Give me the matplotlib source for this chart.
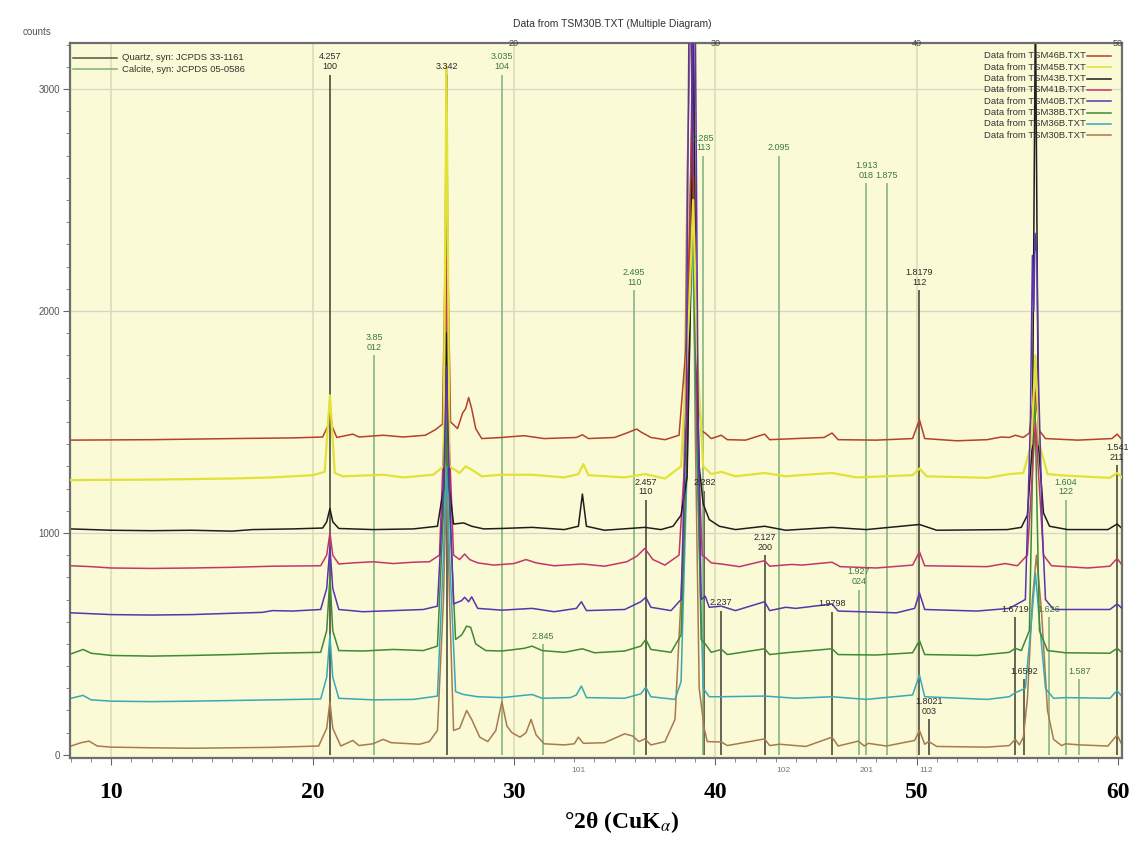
import matplotlib.pyplot as plt
from matplotlib.ticker import MultipleLocator
import matplotlib.transforms as mtransforms

plt.rcParams['font.family'] = ['Liberation Sans', 'DejaVu Sans']
plt.rcParams['mathtext.fontset'] = 'stix'

W, H = 1138, 843

# diffractogram traces, (2theta, counts), top to bottom
t1 = [(8.0, 1418), (12, 1420), (16, 1425), (19, 1428), (20.5, 1432), (20.75, 1480), (20.86, 1565), (20.97, 1480),
      (21.2, 1430), (22.0, 1445), (22.3, 1432), (23.5, 1440), (24.5, 1432), (25.6, 1440), (26.1, 1465), (26.45, 1490),
      (26.58, 2200), (26.65, 3100), (26.72, 2200), (26.85, 1500), (27.2, 1470), (27.45, 1540), (27.6, 1560),
      (27.75, 1610), (27.9, 1560), (28.1, 1470), (28.4, 1425), (29.4, 1430), (30.5, 1438), (31.5, 1425), (33.1, 1430),
      (33.4, 1442), (33.7, 1425), (35.0, 1430), (35.6, 1450), (36.1, 1468), (36.3, 1455), (36.8, 1430), (37.5, 1420),
      (38.2, 1440), (38.6, 1900), (38.85, 2900), (39.1, 1700), (39.3, 1460), (39.5, 1450), (39.8, 1425), (40.3, 1440),
      (40.6, 1420), (41.5, 1418), (42.45, 1445), (42.7, 1420), (44.0, 1425), (45.4, 1430), (45.8, 1450), (46.1, 1420),
      (48.0, 1418), (49.8, 1425), (50.14, 1510), (50.4, 1425), (52.0, 1415), (53.5, 1420), (54.2, 1432), (54.6, 1430),
      (54.9, 1440), (55.3, 1430), (55.6, 1450), (55.85, 1650), (56.1, 1460), (56.4, 1425), (58.0, 1418), (59.7, 1425),
      (59.96, 1445), (60.2, 1420)]
t2 = [(8, 1238), (12, 1240), (16, 1245), (18, 1250), (20, 1260), (20.6, 1275), (20.86, 1620), (21.1, 1270), (21.5, 1255),
      (23.5, 1262), (24.5, 1250), (26.0, 1262), (26.5, 1300), (26.65, 3100), (26.8, 1300), (27.3, 1270), (27.6, 1300),
      (27.9, 1285), (28.4, 1255), (29.4, 1262), (30.9, 1262), (32.5, 1250), (33.2, 1265), (33.45, 1310), (33.7, 1260),
      (35.5, 1250), (36.5, 1265), (37.5, 1245), (38.3, 1300), (38.7, 2000), (38.9, 2500), (39.1, 1800), (39.4, 1300),
      (39.8, 1265), (40.3, 1275), (41, 1255), (42.45, 1270), (43.5, 1255), (44.5, 1262), (45.8, 1270), (47, 1250),
      (49.8, 1260), (50.14, 1290), (50.5, 1255), (53.5, 1248), (54.6, 1265), (55.3, 1270), (55.7, 1400), (55.9, 1800),
      (56.1, 1400), (56.5, 1265), (57.4, 1258), (59.6, 1248), (59.96, 1270), (60.2, 1250)]
t3 = [(8, 1018), (10, 1012), (12, 1010), (14, 1012), (16, 1008), (17, 1015), (19, 1018), (20.5, 1022), (20.7, 1050),
      (20.86, 1110), (21.0, 1050), (21.3, 1020), (23, 1015), (25, 1018), (26.2, 1030), (26.5, 1200), (26.65, 1900),
      (26.8, 1200), (27.0, 1040), (27.5, 1045), (27.9, 1030), (28.5, 1018), (29.4, 1020), (30.9, 1025), (32.5, 1015),
      (33.2, 1030), (33.4, 1175), (33.6, 1030), (34.5, 1012), (36.5, 1025), (37.3, 1015), (37.9, 1030), (38.3, 1080),
      (38.6, 1250), (38.8, 2200), (38.9, 3400), (39.0, 2200), (39.2, 1300), (39.4, 1130), (39.7, 1060), (40.2, 1030),
      (41, 1015), (42.45, 1030), (43.5, 1012), (45.8, 1025), (47.5, 1015), (50.14, 1038), (51, 1012), (54.5, 1015),
      (55.2, 1025), (55.5, 1080), (55.75, 1400), (55.9, 3400), (56.05, 1400), (56.3, 1090), (56.6, 1030), (57.5, 1015),
      (59.5, 1015), (59.96, 1040), (60.2, 1020)]
t4 = [(8, 852), (9, 848), (10, 842), (12, 840), (14, 842), (16, 845), (18, 850), (20.4, 852), (20.7, 900), (20.86, 1000),
      (21.0, 900), (21.3, 860), (22, 865), (23, 870), (24, 862), (25, 868), (25.8, 870), (26.3, 900), (26.55, 1500),
      (26.65, 2250), (26.75, 1500), (27.0, 900), (27.3, 880), (27.55, 905), (27.8, 880), (28.2, 865), (29.0, 855),
      (30.0, 862), (30.6, 880), (31.1, 865), (32.0, 852), (33.4, 860), (34.5, 850), (35.6, 870), (36.1, 895), (36.5, 930),
      (36.9, 880), (37.5, 855), (38.2, 900), (38.6, 1500), (38.9, 3400), (39.1, 1500), (39.35, 900), (39.5, 890),
      (39.8, 865), (40.3, 860), (41.2, 848), (42.45, 875), (42.7, 850), (43.8, 858), (44.3, 855), (45.8, 868), (46.2, 848),
      (48, 842), (49.8, 855), (50.14, 915), (50.4, 852), (53.5, 848), (54.4, 862), (55.0, 852), (55.5, 900), (55.9, 1500),
      (56.3, 900), (56.7, 852), (58.5, 842), (59.6, 850), (59.96, 885), (60.2, 855)]
t5 = [(8, 640), (10, 632), (12, 630), (14, 632), (16, 638), (17.5, 642), (18, 650), (19, 648), (20.4, 655), (20.7, 750),
      (20.86, 935), (21.0, 750), (21.3, 655), (22.5, 645), (24, 650), (25.5, 655), (26.2, 670), (26.5, 1200),
      (26.65, 1750), (26.8, 1200), (27.0, 680), (27.4, 695), (27.55, 710), (27.75, 690), (27.9, 712), (28.2, 660),
      (29.4, 652), (30.9, 660), (32.0, 645), (33.1, 660), (33.35, 690), (33.6, 650), (35.5, 655), (36.3, 690),
      (36.55, 710), (36.8, 665), (37.8, 650), (38.3, 700), (38.55, 1500), (38.7, 3400), (38.82, 3400), (38.86, 2600),
      (38.9, 3400), (39.0, 3400), (39.15, 1500), (39.3, 700),
      (39.5, 715), (39.7, 665), (40.3, 670), (41.0, 650), (42.45, 690), (42.7, 650), (43.5, 665), (44.0, 660),
      (45.8, 680), (46.1, 648), (49.0, 640), (49.9, 660), (50.14, 730), (50.4, 655), (53, 648), (54.6, 660), (55.4, 700),
      (55.65, 1500), (55.75, 2250), (55.82, 2000), (55.88, 2350), (55.97, 2250), (56.05, 1700), (56.25, 1000),
      (56.4, 700), (56.8, 655), (59.6, 655), (59.96, 680), (60.2, 660)]
t6 = [(8, 455), (8.6, 475), (9.0, 458), (10, 448), (12, 445), (14, 448), (16, 452), (18, 458), (20.4, 462), (20.7, 560),
      (20.86, 800), (21.0, 560), (21.3, 470), (22.5, 468), (24.0, 475), (25.5, 470), (26.2, 490), (26.5, 1100),
      (26.65, 1500), (26.8, 1100), (27.1, 520), (27.4, 540), (27.65, 580), (27.85, 575), (28.1, 500), (28.6, 470),
      (29.4, 468), (30.5, 480), (30.9, 490), (31.4, 470), (32.5, 462), (33.4, 478), (34.0, 460), (35.5, 468), (36.3, 490),
      (36.55, 520), (36.8, 475), (37.8, 462), (38.3, 540), (38.6, 1400), (38.85, 2600), (39.1, 1400), (39.3, 520),
      (39.5, 500), (39.8, 462), (40.3, 475), (40.6, 452), (42.45, 478), (42.7, 452), (43.5, 460), (45.8, 478), (46.1, 452),
      (48, 450), (49.8, 460), (50.14, 515), (50.4, 452), (53, 448), (54.6, 462), (54.9, 480), (55.2, 470), (55.6, 560),
      (55.85, 1700), (56.1, 560), (56.5, 470), (57.4, 460), (59.6, 458), (59.96, 480), (60.2, 460)]
t7 = [(8, 255), (8.6, 268), (9.0, 248), (10, 242), (12, 240), (14, 242), (16, 245), (18, 248), (20.4, 252), (20.7, 350),
      (20.86, 540), (21.0, 350), (21.3, 255), (23, 248), (25, 250), (26.2, 265), (26.5, 900), (26.65, 1300), (26.8, 900),
      (27.1, 285), (27.5, 272), (28.2, 262), (29.4, 258), (30.9, 272), (31.4, 255), (32.8, 258), (33.1, 270),
      (33.35, 310), (33.6, 258), (35.5, 255), (36.3, 275), (36.55, 305), (36.8, 262), (38.0, 250), (38.3, 330),
      (38.6, 1300), (38.85, 2400), (39.1, 1300), (39.4, 300), (39.7, 262), (40.3, 262), (42.45, 265), (44, 255),
      (45.8, 262), (47.5, 250), (49.8, 270), (50.14, 360), (50.4, 262), (53.5, 250), (54.6, 262), (54.9, 280),
      (55.4, 300), (55.7, 600), (55.9, 820), (56.1, 600), (56.4, 300), (56.8, 255), (57.4, 258), (59.6, 255),
      (59.96, 290), (60.2, 262)]
t8 = [(8, 40), (8.5, 55), (8.9, 62), (9.3, 40), (10, 35), (12, 32), (14, 30), (16, 32), (18, 34), (20.3, 40), (20.7, 120),
      (20.86, 240), (21.0, 120), (21.4, 40), (22.0, 65), (22.3, 42), (23.0, 50), (23.5, 70), (23.9, 55), (24.5, 52),
      (25.3, 48), (25.8, 60), (26.2, 110), (26.5, 700), (26.65, 1250), (26.8, 700), (27.0, 110), (27.3, 120),
      (27.65, 200), (27.9, 160), (28.3, 80), (28.7, 60), (29.1, 110), (29.4, 240), (29.65, 130), (29.9, 100), (30.3, 80),
      (30.6, 100), (30.85, 160), (31.1, 90), (31.5, 50), (32.5, 45), (33.0, 50), (33.2, 80), (33.45, 52), (34.5, 55),
      (35.0, 75), (35.5, 95), (35.9, 85), (36.2, 60), (36.5, 72), (36.8, 45), (37.5, 60), (38.0, 160), (38.4, 900),
      (38.6, 2600), (38.8, 3400), (39.0, 1500), (39.2, 300), (39.45, 120), (39.6, 60), (40.3, 58), (40.6, 42),
      (42.45, 72), (42.7, 42), (43.2, 48), (44.5, 38), (45.8, 80), (46.1, 40), (47.1, 62), (47.4, 40), (47.6, 52),
      (48.5, 40), (49.9, 65), (50.14, 110), (50.4, 48), (50.6, 60), (51.0, 38), (53.5, 35), (54.6, 42), (54.9, 70),
      (55.1, 45), (55.3, 80), (55.5, 250), (55.75, 700), (55.95, 900), (56.2, 650), (56.5, 200), (56.8, 70), (57.2, 42),
      (57.4, 50), (58.1, 45), (59.5, 40), (59.96, 90), (60.2, 45)]

traces = [t1, t2, t3, t4, t5, t6, t7, t8]
trace_colors = ['#b5402c', '#e2e236', '#1e1e1e', '#c4366a', '#5a34ad', '#3f8a32', '#3aa8b8', '#a87a4e']
trace_files = ['TSM46B.TXT', 'TSM45B.TXT', 'TSM43B.TXT', 'TSM41B.TXT',
               'TSM40B.TXT', 'TSM38B.TXT', 'TSM36B.TXT', 'TSM30B.TXT']

# reference patterns (stick lines)
q_pos = [20.86, 26.65, 36.54, 39.46, 40.29, 42.45, 45.79, 50.14, 50.62, 54.87, 55.33, 59.96]
q_top = [3065, 3065, 1150, 1190, 650, 900, 645, 2095, 160, 620, 340, 1306]
q_d = ['4.257', '3.342', '2.457', '2.282', '2.237', '2.127', '1.9798', '1.8179', '1.8021', '1.6719', '1.6592', '1.541']
q_hkl = ['100', '', '110', '', '', '200', '', '112', '003', '', '', '211']

c_pos = [23.06, 29.41, 31.42, 35.97, 39.40, 43.16, 47.12, 47.50, 48.51, 56.57, 57.41, 58.08]
c_top = [1800, 3065, 500, 2095, 2700, 2700, 745, 2575, 2575, 620, 1150, 340]
c_d = ['3.85', '3.035', '2.845', '2.495', '2.285', '2.095', '1.927', '1.913', '1.875', '1.626', '1.604', '1.587']
c_hkl = ['012', '104', '', '110', '113', '', '024', '018', '', '', '122', '']

bottom_hkl = ['101', '102', '201', '112']
bottom_hkl_pos = [33.2, 43.4, 47.5, 50.45]

fig = plt.figure(figsize=(W / 100, H / 100), dpi=100)
ax = fig.add_axes([70 / W, 1 - 758 / H, (1122 - 70) / W, (758 - 43) / H])
ax.set_facecolor('#fafad6')
ax.set_xlim(7.95, 60.2)
ax.set_ylim(-14, 3207)

for v in [1000, 2000, 3000]:
    ax.axhline(v, color='#d6d6c8', lw=0.9, zorder=0)
for v in [10, 20, 30, 40, 50]:
    ax.axvline(v, color='#dcdcbc', lw=1.2, zorder=0)

ax.vlines(q_pos, 0, q_top, colors='#3c3c30', lw=1.1, zorder=1)
ax.vlines(c_pos, 0, c_top, colors='#7fae7a', lw=1.1, zorder=1)
for pos, top, d, hkl in zip(q_pos, q_top, q_d, q_hkl):
    ax.text(pos, top + 15, d + ('\n' + hkl if hkl else ''), ha='center', va='bottom',
            fontsize=6.5, color='#2a2a2a', linespacing=1.1, zorder=6)
for pos, top, d, hkl in zip(c_pos, c_top, c_d, c_hkl):
    ax.text(pos, top + 15, d + ('\n' + hkl if hkl else ''), ha='center', va='bottom',
            fontsize=6.5, color='#3e7a3e', linespacing=1.1, zorder=6)

order = [7, 6, 5, 3, 2, 0, 1, 4]
for i in order:
    xs, ys = zip(*traces[i])
    ax.plot(xs, ys, color=trace_colors[i], lw=1.6 if i == 1 else 1.1, zorder=2 + order.index(i) * 0.1)

# axes styling
for sp in ax.spines.values():
    sp.set_color('#6e6e6e')
    sp.set_linewidth(1.6)
ax.set_xticks([10, 20, 30, 40, 50, 60])
ax.set_xticklabels(['10', '20', '30', '40', '50', '60'], family='Liberation Serif',
                   fontweight='bold', fontsize=17)
ax.xaxis.set_minor_locator(MultipleLocator(1))
ax.set_yticks([0, 1000, 2000, 3000])
ax.set_yticklabels(['0', '1000', '2000', '3000'], fontsize=7, color='#555555')
ax.yaxis.set_minor_locator(MultipleLocator(100))
ax.tick_params(axis='x', which='major', length=5, pad=12, color='#666666')
ax.tick_params(axis='x', which='minor', length=3, color='#777777')
ax.tick_params(axis='y', which='major', length=5, pad=2, color='#666666')
ax.tick_params(axis='y', which='minor', length=3, color='#777777')

trans_top = mtransforms.blended_transform_factory(ax.transData, ax.transAxes)
for v, lab in zip([30, 40, 50, 60], ['20', '30', '40', '50']):
    ax.text(v, 1.0, lab, transform=trans_top, ha='center', va='center', fontsize=6.5, color='#444444')
for v, lab in zip(bottom_hkl_pos, bottom_hkl):
    ax.text(v, -0.018, lab, transform=trans_top, ha='center', va='center', fontsize=6, color='#777777')

# legends
for row, (name, col) in enumerate([('Quartz, syn: JCPDS 33-1161', '#55553f'),
                                   ('Calcite, syn: JCPDS 05-0586', '#7fae7a')]):
    yy = 1 - (58 + row * 11 - 43) / (758 - 43)
    ax.plot([0.003, 0.045], [yy, yy], transform=ax.transAxes, color=col, lw=1.1, zorder=7)
    ax.text(0.049, yy, name, transform=ax.transAxes, ha='left', va='center', fontsize=6.8,
            color='#333333', zorder=7)
for row, (name, col) in enumerate(zip(trace_files, trace_colors)):
    yy = 1 - (56 + row * 11.3 - 43) / (758 - 43)
    ax.text(0.966, yy, 'Data from ' + name, transform=ax.transAxes, ha='right', va='center',
            fontsize=6.8, color='#333333', zorder=7)
    ax.plot([0.967, 0.99], [yy, yy], transform=ax.transAxes, color=col, lw=1.1, zorder=7)

fig.text(612 / W, 1 - 24 / H, 'Data from TSM30B.TXT (Multiple Diagram)', ha='center', va='center',
         fontsize=7.5, color='#333333')
fig.text(37 / W, 1 - 32 / H, 'counts', ha='center', va='center', fontsize=7, color='#555555')
fig.text(622 / W, 1 - 822 / H, '°2θ (CuK$_{\\alpha}$)', ha='center', va='center',
         family='Liberation Serif', fontweight='bold', fontsize=17)

fig.savefig('out.png', dpi=100, facecolor='white')
